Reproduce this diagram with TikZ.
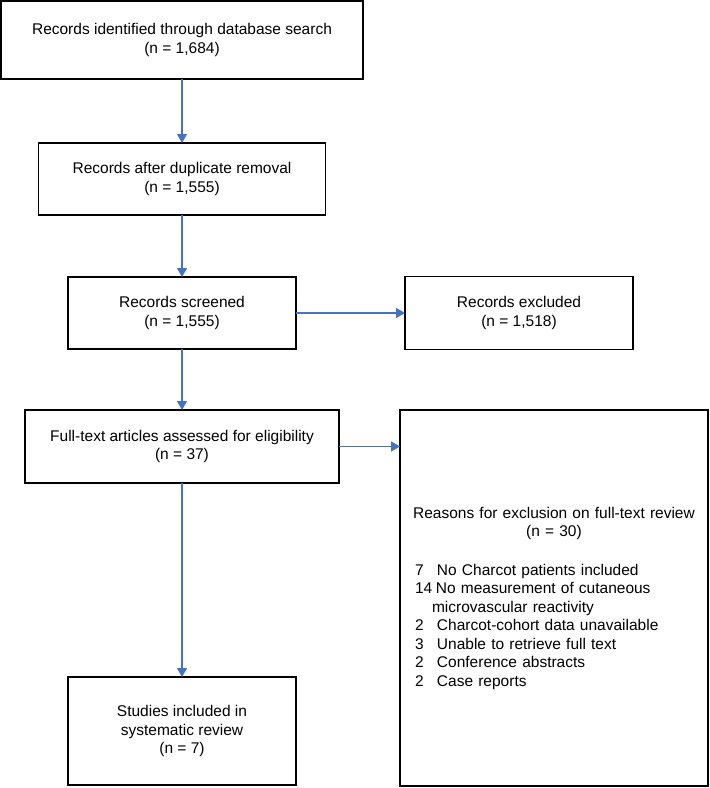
\documentclass[tikz,border=0pt]{standalone}
\usepackage{fontspec}
\setmainfont{Liberation Sans}
\usetikzlibrary{positioning}
\usetikzlibrary{arrows.meta}
\definecolor{flowblue}{RGB}{68,114,196}
\tikzset{
  box/.style={draw, line width=1.6pt, align=center, inner sep=0pt, outer sep=0pt},
  flow/.style={-{Triangle[length=9pt,width=10pt]}, line width=1.3pt, color=flowblue}
}

\begin{document}
\begin{tikzpicture}[x=1pt, y=-1pt, font=\fontsize{15.5}{18.5}\selectfont]
        \useasboundingbox (0,0) rectangle (710,788);
        % Define nodes
        % identification and screening
        \node[box, anchor=north west, minimum width=362pt, minimum height=78pt](rec_id) at (1,1){Records identified through database search\\(n = 1,684)}; %
        \node[box, below=64pt of rec_id, minimum width=287pt, minimum height=72pt](rec_dup){Records after duplicate removal\\(n = 1,555)}; %
        \node[box, below=62pt of rec_dup, minimum width=228pt, minimum height=72pt](rec_scr){Records screened\\(n = 1,555)}; %
        \node[box, right=109pt of rec_scr, minimum width=228pt, minimum height=73pt](rec_exc){Records excluded\\(n = 1,518)}; %
        % eligibility and inclusion
        \node[box, below=61pt of rec_scr, minimum width=314pt, minimum height=73pt](ft_art){Full-text articles assessed for eligibility\\(n = 37)}; %
        \node[box, right=61pt of ft_art.north east, anchor=north west, minimum width=308pt, minimum height=376pt, text width=278pt, align=left](ft_exc){%
          \makebox[\linewidth]{Reasons for exclusion on full-text review}\\
          \makebox[\linewidth]{(n = 30)}\par
          \vspace{20pt}
          \makebox[22pt][l]{7}No Charcot patients included\\
          \makebox[21pt][l]{14}No measurement of cutaneous\\
          \hspace*{17pt}microvascular reactivity\\
          \makebox[22pt][l]{2}Charcot-cohort data unavailable\\
          \makebox[22pt][l]{3}Unable to retrieve full text\\
          \makebox[22pt][l]{2}Conference abstracts\\
          \makebox[22pt][l]{2}Case reports}; %
        \node[box, below=194pt of ft_art, minimum width=228pt, minimum height=108pt](incl){Studies included in\\systematic review\\(n = 7)}; %

        \draw[flow] (rec_id) -- (rec_dup);
        \draw[flow] (rec_dup) -- (rec_scr);
        \draw[flow] (rec_scr) -- (rec_exc);
        \draw[flow] (rec_scr) -- (ft_art);
        \draw[flow] (ft_art.east) -- (ft_art.east -| ft_exc.west);
        \draw[flow] (ft_art) -- (incl);
    \end{tikzpicture}
\end{document}
